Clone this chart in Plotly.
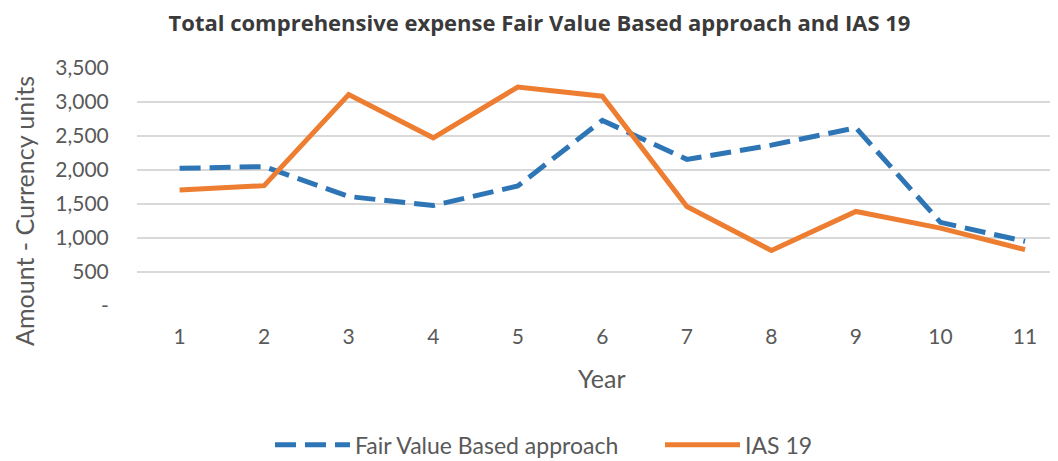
import plotly.graph_objects as go

years = [1, 2, 3, 4, 5, 6, 7, 8, 9, 10, 11]
fair_value = [2025, 2050, 1610, 1477, 1765, 2730, 2156, 2366, 2620, 1230, 950]
ias19 = [1707, 1770, 3110, 2473, 3220, 3085, 1462, 817, 1390, 1146, 828]
y_tickvals = [0, 500, 1000, 1500, 2000, 2500, 3000, 3500]
y_ticktext = ["-", "500", "1,000", "1,500", "2,000", "2,500", "3,000", "3,500"]

# page body has an 8px margin; figure coordinates = screen - 8
W, H = 1050, 453
L, R, T, B = 129, 1050, 59.5, 298.5

fig = go.Figure()
fig.add_trace(go.Scatter(x=years, y=fair_value, mode="lines", name="Fair Value Based approach",
                         line=dict(color="#2E75B6", width=5, dash="21px,9px")))
fig.add_trace(go.Scatter(x=years, y=ias19, mode="lines", name="IAS 19",
                         line=dict(color="#ED7D31", width=5)))

axis_font = dict(family="Lato, Carlito, sans-serif", size=21, color="#595959")

fig.update_layout(
    width=W, height=H,
    margin=dict(l=L, r=W - R, t=T, b=H - B, pad=0, autoexpand=False),
    paper_bgcolor="white", plot_bgcolor="white",
    showlegend=True,
    title=dict(text="<b>Total comprehensive expense Fair Value Based approach and IAS 19</b>",
               x=531.5 / W, xanchor="center", y=1 - 15.5 / H, yanchor="middle",
               font=dict(family="Open Sans, sans-serif", size=22, color="#3A3A3A")),
    xaxis=dict(range=[0.496, 11.39], tickvals=years, showgrid=False, zeroline=False,
               showline=False, ticks="outside", ticklen=12, tickcolor="rgba(0,0,0,0)",
               tickfont=axis_font, automargin=False),
    yaxis=dict(range=[0, 3500], tickvals=y_tickvals, ticktext=y_ticktext,
               showgrid=True, gridcolor="#D9D9D9", gridwidth=1.5, zeroline=False,
               showline=False, ticks="outside", ticklen=23, tickcolor="rgba(0,0,0,0)",
               tickfont=axis_font, automargin=False),
    legend=dict(orientation="h", x=(262 - L) / (R - L), xanchor="left",
                y=(B - 438) / (B - T), yanchor="middle",
                font=dict(family="Lato, Carlito, sans-serif", size=23, color="#595959"),
                itemwidth=75, entrywidth=300, bgcolor="rgba(0,0,0,0)"),
)

fig.add_annotation(text="Year", xref="paper", yref="paper",
                   x=(594 - L) / (R - L), y=(B - 371) / (B - T), xanchor="center", yanchor="middle",
                   showarrow=False, font=dict(family="Lato, Carlito, sans-serif", size=25, color="#595959"))
fig.add_annotation(text="Amount - Currency units", xref="paper", yref="paper",
                   x=(16 - L) / (R - L), y=(B - 203) / (B - T), xanchor="center", yanchor="middle",
                   textangle=-90, showarrow=False,
                   font=dict(family="Lato, Carlito, sans-serif", size=25, color="#595959"))

fig.write_html("out.html")
